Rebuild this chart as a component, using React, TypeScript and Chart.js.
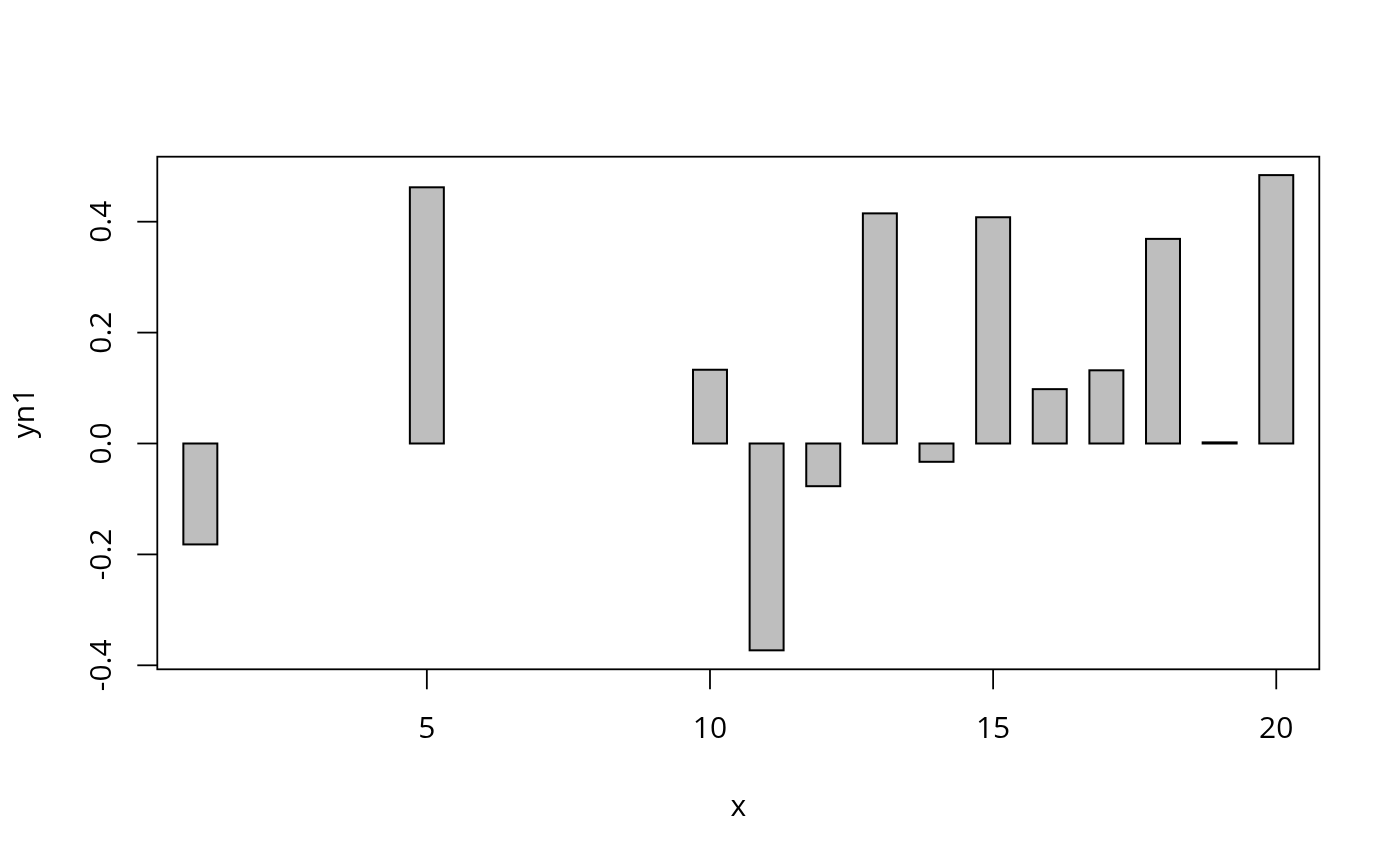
import React, { useEffect, useRef } from "react";
import { Chart, registerables } from "chart.js";

Chart.register(...registerables);

const categories: number[] = [1, 2, 3, 4, 5, 6, 7, 8, 9, 10, 11, 12, 13, 14, 15, 16, 17, 18, 19, 20];
const yn1: (number | null)[] = [
  -0.182, null, null, null, 0.462, null, null, null, null, 0.133,
  -0.373, -0.077, 0.415, -0.033, 0.408, 0.098, 0.132, 0.369, 0.002, 0.484,
];
const xTicks: number[] = [5, 10, 15, 20];
const yTicks: number[] = [-0.4, -0.2, 0.0, 0.2, 0.4];
const yTickLabels: string[] = ["-0.4", "-0.2", "0.0", "0.2", "0.4"];
const xLimits: number[] = [0.24, 20.76];
const yLimits: number[] = [-0.4072, 0.5172];
const xTitle = "x";
const yTitle = "yn1";

const FONT = '30px "Open Sans"';

const barOutlinePlugin = {
  id: "barOutline",
  afterDatasetsDraw(chart: any) {
    const ctx = chart.ctx as CanvasRenderingContext2D;
    const meta = chart.getDatasetMeta(0);
    ctx.save();
    ctx.strokeStyle = "#000";
    ctx.lineWidth = 2;
    meta.data.forEach((el: any, i: number) => {
      if (yn1[i] === null || yn1[i] === undefined) return;
      const { x, y, base, width } = el.getProps(["x", "y", "base", "width"], true);
      const top = Math.min(y, base);
      const h = Math.max(Math.abs(base - y), 1);
      ctx.strokeRect(x - width / 2, top, width, h);
    });
    ctx.restore();
  },
};

const rAxesPlugin = {
  id: "rAxes",
  afterDraw(chart: any) {
    const ctx = chart.ctx as CanvasRenderingContext2D;
    const area = chart.chartArea;
    const xs = chart.scales.x;
    const ys = chart.scales.y;
    ctx.save();
    ctx.strokeStyle = "#000";
    ctx.fillStyle = "#000";
    ctx.lineWidth = 1.8;
    ctx.strokeRect(area.left, area.top, area.right - area.left, area.bottom - area.top);
    ctx.font = FONT;
    ctx.textAlign = "center";
    ctx.textBaseline = "alphabetic";
    xTicks.forEach((t) => {
      const px = xs.getPixelForValue(t);
      ctx.beginPath();
      ctx.moveTo(px, area.bottom);
      ctx.lineTo(px, area.bottom + 20);
      ctx.stroke();
      ctx.fillText(String(t), px, 738);
    });
    yTicks.forEach((t, i) => {
      const py = ys.getPixelForValue(t);
      ctx.beginPath();
      ctx.moveTo(area.left, py);
      ctx.lineTo(area.left - 20, py);
      ctx.stroke();
      ctx.save();
      ctx.translate(111, py);
      ctx.rotate(-Math.PI / 2);
      ctx.textAlign = "center";
      ctx.textBaseline = "alphabetic";
      ctx.fillText(yTickLabels[i], 0, 0);
      ctx.restore();
    });
    ctx.textAlign = "center";
    ctx.fillText(xTitle, (area.left + area.right) / 2, 816);
    ctx.save();
    ctx.translate(34, (area.top + area.bottom) / 2);
    ctx.rotate(-Math.PI / 2);
    ctx.textAlign = "center";
    ctx.fillText(yTitle, 0, 0);
    ctx.restore();
    ctx.restore();
  },
};

export default function App() {
  const ref = useRef<HTMLCanvasElement | null>(null);
  useEffect(() => {
    if (!ref.current) return;
    const chart = new Chart(ref.current, {
      type: "bar",
      data: {
        datasets: [
          {
            label: yTitle,
            data: categories.map((c, i) => ({ x: c, y: yn1[i] })) as any,
            backgroundColor: "#bebebe",
            borderWidth: 0,
            barPercentage: 0.6,
            categoryPercentage: 1,
          },
        ],
      },
      options: {
        animation: false,
        responsive: true,
        maintainAspectRatio: false,
        layout: { padding: { left: 157.3, right: 80.7, top: 156.7, bottom: 196.7 } },
        plugins: { legend: { display: false }, tooltip: { enabled: false } },
        scales: {
          x: {
            type: "linear",
            display: false,
            offset: false,
            min: xLimits[0],
            max: xLimits[1],
            grid: { display: false },
          },
          y: {
            type: "linear",
            display: false,
            min: yLimits[0],
            max: yLimits[1],
            grid: { display: false },
          },
        },
      },
      plugins: [barOutlinePlugin, rAxesPlugin],
    });
    return () => chart.destroy();
  }, []);
  return (
    <div style={{ position: "absolute", left: 0, top: 0, width: 1400, height: 866, background: "#fff" }}>
      <canvas ref={ref} />
    </div>
  );
}
